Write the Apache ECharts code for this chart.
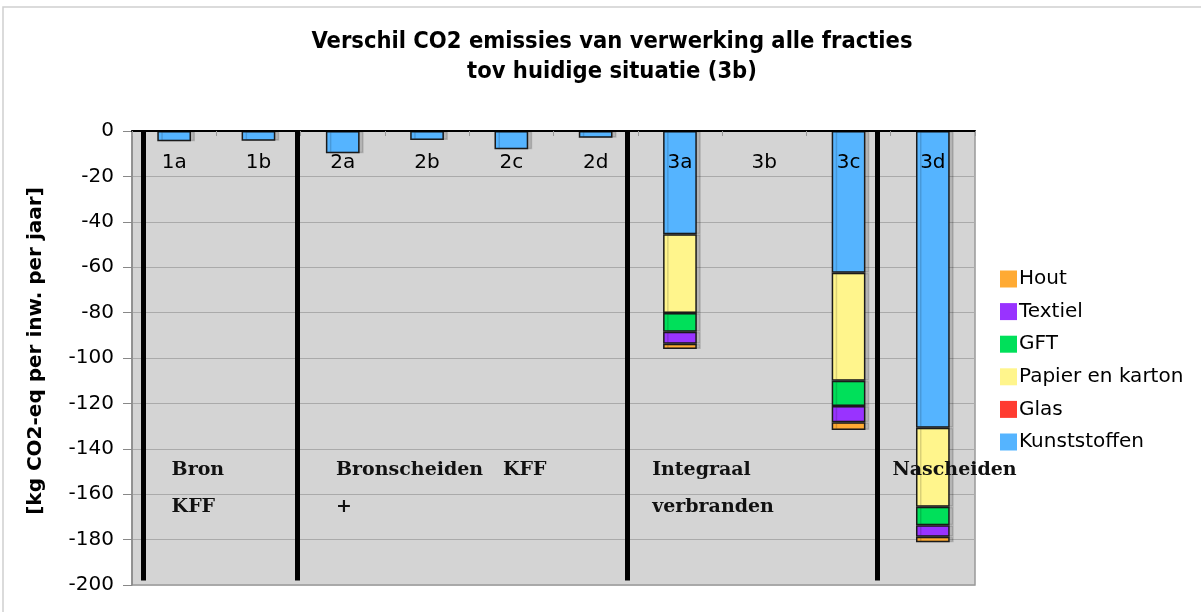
<!DOCTYPE html>
<html>
<head>
<meta charset="utf-8">
<script src="https://cdn.jsdelivr.net/npm/echarts@6/dist/echarts.min.js"></script>
<style>
html,body{margin:0;padding:0;background:#fff;}
#chart{width:1201px;height:612px;}
</style>
</head>
<body>
<div id="chart"></div>
<script>
const categories = ['1a','1b','2a','2b','2c','2d','3a','3b','3c','3d'];
const kunststoffen = [-4.5, -4.3, -9.8, -4.0, -8.0, -3.0, -45.5, null, -62.4, -130.7];
const glas         = [null, null, null, null, null, null, null, null, null, null];
const papier       = [null, null, null, null, null, null, -34.7, null, -47.6, -34.8];
const gft          = [null, null, null, null, null, null, -8.2, null, -11.1, -8.2];
const textiel      = [null, null, null, null, null, null, -5.3, null, -7.2, -5.0];
const hout         = [null, null, null, null, null, null, -2.3, null, -3.4, -2.5];
const yTicks = [0,-20,-40,-60,-80,-100,-120,-140,-160,-180,-200];
const separators = [0.13, 1.96, 5.88, 8.84];
const groupNotes = [
  {x: 0.47, lines: ['Bron', 'KFF']},
  {x: 2.42, lines: ['Bronscheiden   KFF', '+']},
  {x: 6.17, lines: ['Integraal', 'verbranden']},
  {x: 9.02, lines: ['Nascheiden']}
];

const chart = echarts.init(document.getElementById('chart'));
const colors = {
  'Kunststoffen': '#55B4FF',
  'Glas': '#FF3B30',
  'Papier en karton': '#FFF58C',
  'GFT': '#00E05A',
  'Textiel': '#9933FF',
  'Hout': '#FFAA33'
};
function barSeries(name, data) {
  return {
    name: name, type: 'bar', stack: 'all', data: data,
    barWidth: '40%',
    xAxisIndex: 0, yAxisIndex: 0,
    itemStyle: {
      color: colors[name], borderColor: '#1a1a1a', borderWidth: 1.5,
      shadowColor: 'rgba(0,0,0,0.15)', shadowOffsetX: 4, shadowOffsetY: 0, shadowBlur: 0
    },
    emphasis: {disabled: true}
  };
}
const sansFont = '"DejaVu Sans", Verdana, sans-serif';
const serifFont = '"DejaVu Serif", "Liberation Serif", serif';
const option = {
  animation: false,
  backgroundColor: '#fff',
  title: {
    text: 'Verschil CO2 emissies van verwerking alle fracties\ntov huidige situatie (3b)',
    left: 607, top: 22, textAlign: 'center',
    textStyle: {fontFamily: '"DejaVu Sans Condensed", "DejaVu Sans", sans-serif', fontWeight: 'bold', fontSize: 23.5, lineHeight: 30, color: '#000'}
  },
  legend: {
    orient: 'vertical', left: 995, top: 264,
    icon: 'rect',
    itemWidth: 17, itemHeight: 17, itemGap: 12.6,
    data: ['Hout','Textiel','GFT','Papier en karton','Glas','Kunststoffen'],
    textStyle: {fontFamily: sansFont, fontSize: 20, color: '#000', padding: [0,0,0,-3]},
    itemStyle: {borderWidth: 0},
    selectedMode: false
  },
  grid: {
    left: 132, right: 226, top: 131, bottom: 27,
    show: true, backgroundColor: '#D4D4D4', borderColor: '#999', borderWidth: 1.5
  },
  xAxis: [{
    type: 'category', data: categories, position: 'top', z: 10,
    axisLine: {show: true, lineStyle: {color: '#000', width: 2}},
    axisTick: {show: true, inside: true, length: 5, lineStyle: {color: '#999'}},
    axisLabel: {inside: true, margin: 22, fontFamily: sansFont, fontSize: 20, color: '#000'},
    splitLine: {show: false}
  }, {
    type: 'value', min: 0, max: 10, show: false
  }],
  yAxis: {
    type: 'value', min: -200, max: 0, interval: 20,
    name: '[kg CO2-eq per inw. per jaar]', nameLocation: 'middle', nameGap: 86, nameRotate: 90,
    nameTextStyle: {fontFamily: sansFont, fontWeight: 'bold', fontSize: 20, color: '#000', padding: [0, 0, 0, 14]},
    axisLine: {show: true, lineStyle: {color: '#888', width: 1.5}},
    axisTick: {show: true, length: 9, lineStyle: {color: '#888'}},
    axisLabel: {margin: 18, fontFamily: sansFont, fontSize: 20, color: '#000',
      formatter: v => yTicks.includes(v) ? String(v) : ''},
    splitLine: {show: true, lineStyle: {color: '#AAAAAA', width: 1.2}}
  },
  series: [
    barSeries('Kunststoffen', kunststoffen),
    barSeries('Glas', glas),
    barSeries('Papier en karton', papier),
    barSeries('GFT', gft),
    barSeries('Textiel', textiel),
    barSeries('Hout', hout),
    {
      type: 'line', xAxisIndex: 1, yAxisIndex: 0, data: [], silent: true,
      markLine: {
        silent: true, symbol: 'none', label: {show: false},
        lineStyle: {color: '#000', width: 5, type: 'solid'},
        data: separators.map(s => [{coord: [s, 0]}, {coord: [s, -198]}])
      },
      markPoint: {
        silent: true, symbol: 'rect', symbolSize: 0,
        data: groupNotes.flatMap(g => g.lines.map((t, i) => ({
          coord: [g.x, -149.5 - i * 16],
          label: {show: true, formatter: t, position: 'right', distance: 0,
            fontFamily: serifFont, fontWeight: 'bold', fontSize: 19, color: '#111'}
        })))
      },
      z: 10
    }
  ],
  graphic: [{
    type: 'rect', shape: {x: 3, y: 7, width: 1220, height: 640}, silent: true, z: -1,
    style: {fill: 'none', stroke: '#D0D0D0', lineWidth: 1.5}
  }]
};
chart.setOption(option);
</script>
</body>
</html>
